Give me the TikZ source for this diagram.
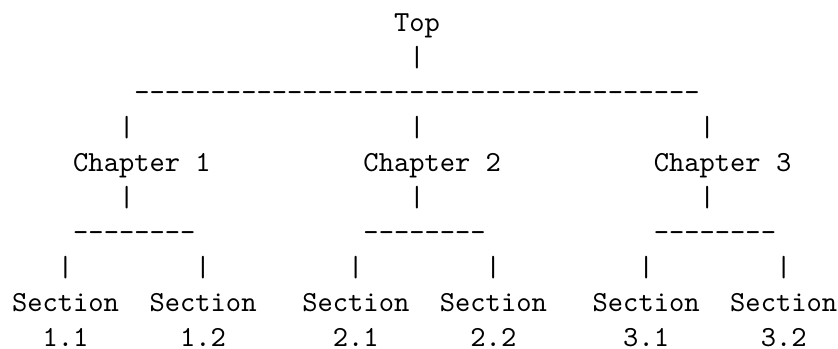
\documentclass[tikz,border=0pt]{standalone}
\newcommand{\dashrun}[1]{\foreach \i in {1,...,#1}{-}}
\begin{document}
\begin{tikzpicture}[x=5.25pt, y=-12pt,
        every node/.style={font=\ttfamily, inner sep=0pt, anchor=base west}]
        \useasboundingbox (-3.95pt,10.9pt) rectangle (284pt,-108.7pt);

        % Top and its bar
        \node (top) at (25,0) {Top};
        \node (topbar) at (26,1) {|};

        % Long line over the chapters
        \node (topline) at (8,2) {\dashrun{37}};
        \node (upa) at (7,3) {|};
        \node (upb) at (26,3) {|};
        \node (upc) at (45,3) {|};

        % Chapters
        \node (ch1) at (4,4) {Chapter 1};
        \node (ch2) at (23,4) {Chapter 2};
        \node (ch3) at (42,4) {Chapter 3};
        \node (dna) at (7,5) {|};
        \node (dnb) at (26,5) {|};
        \node (dnc) at (45,5) {|};

        % Short lines over the sections
        \node (line1) at (4,6) {\dashrun{8}};
        \node (line2) at (23,6) {\dashrun{8}};
        \node (line3) at (42,6) {\dashrun{8}};
        \node (bar11) at (3,7) {|};
        \node (bar12) at (12,7) {|};
        \node (bar21) at (22,7) {|};
        \node (bar22) at (31,7) {|};
        \node (bar31) at (41,7) {|};
        \node (bar32) at (50,7) {|};

        % Sections
        \node (sec11) at (0,8) {Section};
        \node (sec12) at (9,8) {Section};
        \node (sec21) at (19,8) {Section};
        \node (sec22) at (28,8) {Section};
        \node (sec31) at (38,8) {Section};
        \node (sec32) at (47,8) {Section};
        \node (num11) at (2,9) {1.1};
        \node (num12) at (11,9) {1.2};
        \node (num21) at (21,9) {2.1};
        \node (num22) at (30,9) {2.2};
        \node (num31) at (40,9) {3.1};
        \node (num32) at (49,9) {3.2};

    \end{tikzpicture}
\end{document}
